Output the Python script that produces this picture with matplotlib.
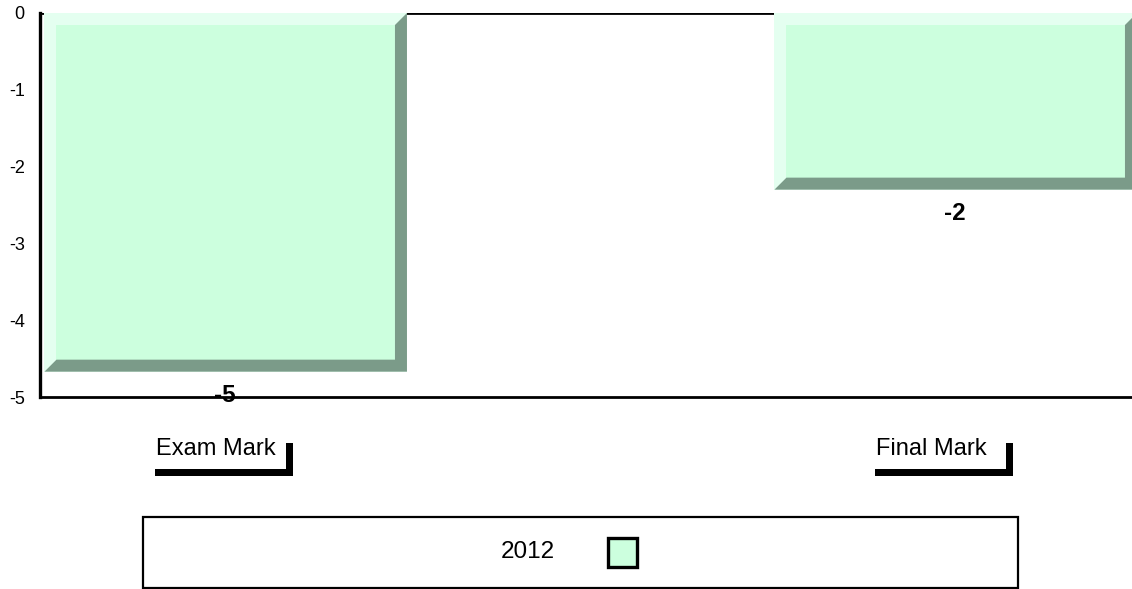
import matplotlib
matplotlib.use("Agg")
import matplotlib.pyplot as plt
from matplotlib.patches import Polygon, Rectangle
import numpy as np

plt.rcParams['font.family'] = ['Liberation Sans', 'DejaVu Sans']

categories = ["Exam Mark", "Final Mark"]
values = [-4.67, -2.3]
value_labels = ["-5", "-2"]
series_name = "2012"
yticks = [0, -1, -2, -3, -4, -5]

FACE = "#ccffde"
LIGHT = "#e4fff0"
DARK = "#7b9b89"

W, H = 1132, 589
fig = plt.figure(figsize=(W / 100, H / 100), dpi=100)
ax = fig.add_axes([40 / W, (H - 397) / H, (W - 40) / W, (397 - 13) / H])
ax.set_ylim(-5, 0)
ax.set_xlim(-0.2527, 1.2432)
bar_w = 0.5

for s in ['top', 'right']:
    ax.spines[s].set_visible(False)
ax.spines['left'].set_linewidth(2.4)
ax.spines['bottom'].set_linewidth(2)
ax.axhline(0, color='black', lw=2, zorder=0.5)
ax.set_xticks([])
ax.set_yticks(yticks)
ax.set_yticklabels([str(t) for t in yticks], fontsize=13)
ax.tick_params(axis='y', length=0, pad=11)

inv = ax.transData.inverted()
def px(dxp, dyp):
    a = inv.transform((0, 0)); b = inv.transform((dxp, dyp))
    return b[0] - a[0], b[1] - a[1]

dx, dy = px(12, 12)
x0off, _ = px(2.5, 0)

for i, v in enumerate(values):
    xl = i - bar_w / 2 + x0off
    xr = i + bar_w / 2
    top, bot = 0, v
    ax.add_patch(Rectangle((xl, bot), xr - xl, top - bot, facecolor=LIGHT, edgecolor='none', zorder=1, clip_on=True))
    ax.add_patch(Rectangle((xl + dx, bot + dy), xr - xl - 2 * dx, top - bot - 2 * dy,
                           facecolor=FACE, edgecolor='none', zorder=1.1))
    dark = [(xr, top), (xr, bot), (xl, bot), (xl + dx, bot + dy), (xr - dx, bot + dy), (xr - dx, top - dy)]
    ax.add_patch(Polygon(dark, closed=True, facecolor=DARK, edgecolor='none', zorder=1.2))
    ax.annotate(value_labels[i], xy=(i, v), xytext=(0, -9), textcoords='offset points',
                ha='center', va='top', fontsize=17.5, fontweight='bold', zorder=3,
                annotation_clip=False)

# category labels with shadow L-shapes
T = fig.dpi_scale_trans
def P(x, y):
    return (x / 100, (H - y) / 100)

label_dx = [0, -10]
for i, c in enumerate(categories):
    cx = ax.transData.transform((i, 0))[0] + label_dx[i]
    left = cx - 69
    right = cx + 69
    fig.text(*P(left + 1, 455), c, transform=T, fontsize=17, ha='left', va='baseline')
    th = 7
    L = [P(left, 469), P(right - th, 469), P(right - th, 443), P(right, 443), P(right, 476), P(left, 476)]
    fig.patches.append(Polygon(L, closed=True, facecolor='black', edgecolor='none', transform=T, figure=fig))

# legend box
x_a, y_a = P(143, 588)
x_b, y_b = P(1018, 517)
fig.patches.append(Rectangle((x_a, y_a), x_b - x_a, y_b - y_a, facecolor='white', edgecolor='black',
                             lw=1.6, transform=T, figure=fig))
fig.text(*P(528, 552), series_name, transform=T, fontsize=17.5, ha='center', va='center')
sx, sy = P(608, 567)
fig.patches.append(Rectangle((sx, sy), 0.29, 0.29, facecolor=FACE, edgecolor='black', lw=2.4,
                             transform=T, figure=fig))

fig.savefig("out.png", dpi=100)
